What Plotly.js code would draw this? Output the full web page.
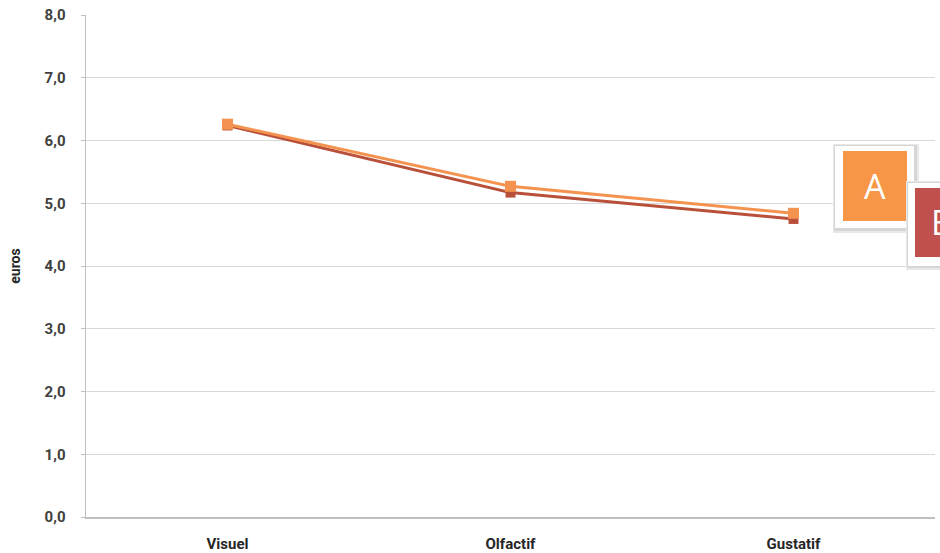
<!DOCTYPE html>
<html>
<head>
<meta charset="utf-8">
<script src="https://cdn.plot.ly/plotly-3.0.1.min.js"></script>
<style>html,body{margin:0;padding:0;background:#fff;}#chart{width:940px;height:553px;}</style>
</head>
<body>
<div id="chart"></div>
<script>
const categories = ["Visuel", "Olfactif", "Gustatif"];
const seriesA = [6.26, 5.27, 4.84];
const seriesB = [6.24, 5.17, 4.75];
const yTicks = [0, 1, 2, 3, 4, 5, 6, 7, 8];

const L = 86, R = 935, T = 15, B = 517;
const px = x => (x - L) / (R - L);
const py = y => (B - y) / (B - T);

const traceB = {
  x: categories, y: seriesB, name: "B", type: "scatter", mode: "lines+markers",
  line: {color: "#B9503A", width: 3},
  marker: {symbol: "square", size: 10, color: "#B9503A"}
};
const traceA = {
  x: categories, y: seriesA, name: "A", type: "scatter", mode: "lines+markers",
  line: {color: "#F4934F", width: 3},
  marker: {symbol: "square", size: 11, color: "#F4934F"}
};

function rect(x0, y0, x1, y1, color, op) {
  return {type: "rect", xref: "paper", yref: "paper", x0: px(x0), x1: px(x1), y0: py(y1), y1: py(y0),
    fillcolor: color, opacity: op === undefined ? 1 : op, line: {width: 0}, layer: "above"};
}

const shapes = [
  rect(833, 144, 919, 233, "#e8e8e8"),
  rect(834, 145, 917, 231, "#d6d6d6"),
  rect(835, 146, 914, 228, "#ffffff"),
  rect(843, 151, 907, 221, "#F79646"),
  rect(906, 181, 945, 270, "#e8e8e8"),
  rect(907, 182, 945, 268, "#d6d6d6"),
  rect(908, 183, 945, 266, "#ffffff"),
  rect(915, 188, 945, 257, "#C0504D")
];

const annotations = [
  {xref: "paper", yref: "paper", x: px(875), y: py(186), text: "A", showarrow: false,
   font: {family: "Open Sans, sans-serif", size: 34, color: "#ffffff"}, xanchor: "center", yanchor: "middle"},
  {xref: "paper", yref: "paper", x: px(929), y: py(222), text: "B", showarrow: false,
   font: {family: "Open Sans, sans-serif", size: 34, color: "#ffffff"}, xanchor: "left", yanchor: "middle"}
];

const layout = {
  width: 940, height: 553,
  margin: {l: L, r: 940 - R, t: T, b: 553 - B},
  paper_bgcolor: "#ffffff", plot_bgcolor: "#ffffff",
  showlegend: false,
  separators: ",.",
  font: {family: "Roboto, sans-serif", color: "#404040"},
  xaxis: {
    type: "category", range: [-0.5, 2.5], showgrid: false, zeroline: false,
    showline: true, linecolor: "#bfbfbf", linewidth: 1.5, ticks: "",
    ticklabelstandoff: 12,
    tickfont: {family: "Roboto, sans-serif", size: 15, color: "#262626", weight: "bold"}
  },
  yaxis: {
    range: [0, 8], tickvals: yTicks, tickformat: ".1f",
    showgrid: true, gridcolor: "#d9d9d9", gridwidth: 1, zeroline: false,
    showline: true, linecolor: "#bfbfbf", linewidth: 1.5, ticks: "outside", ticklen: 4, tickcolor: "#bfbfbf",
    ticklabelstandoff: 12,
    tickfont: {family: "Roboto, sans-serif", size: 15, color: "#404040", weight: "bold"},
    title: {text: "euros", font: {family: "Roboto, sans-serif", size: 14, color: "#262626", weight: "bold"}, standoff: 20}
  },
  shapes: shapes,
  annotations: annotations
};

Plotly.newPlot("chart", [traceB, traceA], layout, {staticPlot: true, displayModeBar: false});
</script>
</body>
</html>
